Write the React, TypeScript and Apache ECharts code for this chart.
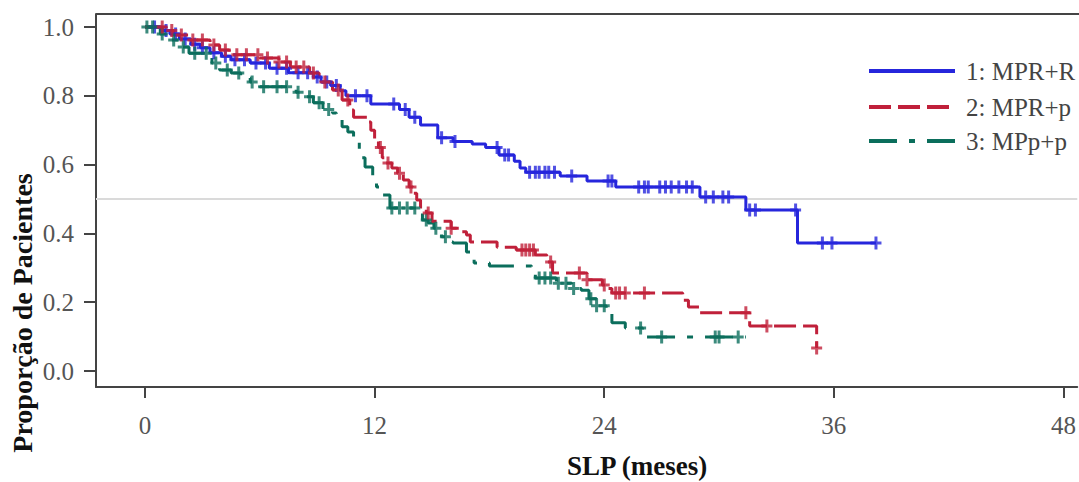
import React, { useEffect, useRef } from "react";
import * as echarts from "echarts";

const FONT = '"Liberation Serif", "Times New Roman", serif';

const xTickValues = [0, 12, 24, 36, 48];
const yTickValues = [0, 0.2, 0.4, 0.6, 0.8, 1.0];

const seriesNames = ["1: MPR+R", "2: MPR+p", "3: MPp+p"];
const seriesColors = ["#2626dc", "#c0203a", "#0b6e5c"];

// Kaplan-Meier step points [month, survival]
const curveMPRR = [
  [0, 1.0], [0.9, 0.99], [1.3, 0.98], [1.8, 0.965], [2.4, 0.95], [2.9, 0.94], [3.4, 0.925],
  [4.0, 0.915], [4.5, 0.905], [5.5, 0.895], [6.5, 0.88], [7.5, 0.867], [8.8, 0.855], [9.2, 0.84],
  [9.7, 0.83], [10.2, 0.815], [10.5, 0.8], [11.8, 0.776], [13.3, 0.76], [13.8, 0.738], [14.4, 0.715],
  [15.3, 0.678], [16.1, 0.667], [17.1, 0.66], [17.8, 0.65], [18.5, 0.628], [19.3, 0.61], [19.6, 0.59],
  [19.9, 0.578], [21.7, 0.567], [23.1, 0.552], [24.6, 0.535], [29.0, 0.506], [31.4, 0.468],
  [34.1, 0.372], [38.2, 0.372],
];
const curveMPRp = [
  [0, 1.0], [1.1, 0.99], [1.5, 0.977], [2.3, 0.962], [3.4, 0.948], [3.9, 0.933], [4.4, 0.919],
  [6.0, 0.91], [7.0, 0.898], [7.6, 0.884], [8.6, 0.866], [9.1, 0.84], [9.8, 0.817], [10.3, 0.788],
  [10.7, 0.759], [10.9, 0.738], [11.6, 0.724], [11.8, 0.7], [12.0, 0.675], [12.2, 0.65], [12.4, 0.62],
  [12.6, 0.605], [12.9, 0.59], [13.2, 0.575], [13.5, 0.555], [13.8, 0.535], [14.0, 0.517], [14.2, 0.497],
  [14.4, 0.477], [14.7, 0.459], [15.0, 0.435], [16.0, 0.415], [16.4, 0.405], [16.8, 0.395], [17.0, 0.375],
  [18.4, 0.36], [19.4, 0.352], [20.4, 0.337], [21.0, 0.317], [21.3, 0.285], [23.1, 0.265], [23.9, 0.25],
  [24.2, 0.24], [24.4, 0.227], [28.1, 0.206], [28.4, 0.186], [29.0, 0.169], [31.6, 0.131], [35.1, 0.067],
];
const curveMPpp = [
  [0, 1.0], [0.8, 0.98], [1.3, 0.962], [1.8, 0.942], [2.3, 0.924], [3.3, 0.91], [3.5, 0.895],
  [3.9, 0.875], [4.5, 0.866], [5.0, 0.852], [5.5, 0.84], [6.0, 0.826], [7.9, 0.81], [8.4, 0.797],
  [8.8, 0.78], [9.3, 0.76], [9.8, 0.75], [10.0, 0.738], [10.3, 0.71], [10.6, 0.695], [10.9, 0.67],
  [11.2, 0.62], [11.5, 0.593], [11.9, 0.56], [12.1, 0.535], [12.4, 0.512], [12.8, 0.474], [14.2, 0.459],
  [14.5, 0.439], [14.8, 0.43], [15.1, 0.415], [15.3, 0.4], [15.5, 0.39], [15.8, 0.375], [16.1, 0.372],
  [16.8, 0.346], [17.0, 0.331], [17.2, 0.314], [18.0, 0.305], [20.2, 0.295], [20.4, 0.27], [21.5, 0.255],
  [22.3, 0.24], [22.8, 0.235], [23.2, 0.21], [23.6, 0.19], [24.1, 0.169], [24.4, 0.14], [25.1, 0.125],
  [26.0, 0.099], [31.4, 0.099],
];

// Censoring times (months)
const censorMPRR = [
  0.5, 1.1, 1.6, 2.1, 2.6, 3.0, 3.6, 4.2, 4.7, 5.2, 5.8, 6.3, 6.9, 7.4, 8.0, 8.5, 9.0, 9.5, 10.0, 11.0,
  11.6, 13.0, 13.6, 14.1, 15.5, 16.2, 18.4, 18.8, 19.0, 20.1, 20.4, 20.6, 20.9, 21.1, 21.4, 22.3, 24.2,
  24.4, 25.8, 26.1, 26.3, 26.9, 27.2, 27.5, 27.9, 28.3, 28.6, 29.3, 29.7, 30.2, 30.5, 31.6, 31.9, 34.0,
  35.4, 35.9, 38.2,
];
const censorMPRp = [
  0.9, 1.4, 1.9, 2.5, 3.0, 3.6, 4.2, 4.8, 5.3, 5.9, 6.4, 7.0, 7.4, 7.9, 8.3, 8.8, 9.4, 10.1, 10.6, 12.3,
  12.7, 13.3, 13.9, 14.8, 16.0, 19.7, 19.9, 20.1, 20.3, 21.2, 22.7, 23.1, 24.0, 24.6, 24.8, 25.1, 26.1,
  31.4, 32.5, 35.1,
];
const censorMPpp = [
  0.1, 0.4, 0.9, 1.5, 2.0, 2.6, 3.2, 3.7, 4.3, 4.9, 5.6, 6.2, 6.9, 7.4, 8.0, 8.6, 9.1, 9.6, 12.9, 13.3,
  13.7, 14.1, 14.7, 15.2, 15.7, 20.6, 20.9, 21.2, 21.6, 22.0, 22.4, 23.3, 23.6, 24.0, 25.9, 27.0, 29.8,
  30.0, 31.0,
];

const curves = [curveMPRR, curveMPRp, curveMPpp];
const censors = [censorMPRR, censorMPRp, censorMPpp];
const dashes: any[] = ["solid", [22, 7], [28, 12, 6, 12]];

function survAt(curve: number[][], t: number) {
  let v = curve[0][1];
  for (const p of curve) {
    if (p[0] <= t) v = p[1];
  }
  return v;
}

const PLUS = "path://M4,0h3v5h4v3h-4v5h-3v-5h-4v-3h4z";

export default function App() {
  const ref = useRef<HTMLDivElement>(null);
  useEffect(() => {
    if (!ref.current) return;
    const chart = echarts.init(ref.current, undefined, { renderer: "svg" });
    const series: any[] = [];
    const order = [0, 2, 1];
    order.forEach((i) => {
      series.push({
        name: seriesNames[i],
        type: "line",
        step: "end",
        symbol: "none",
        data: curves[i],
        lineStyle: { color: seriesColors[i], width: 3, type: dashes[i] },
        z: 3,
        markLine:
          i === 0
            ? {
                silent: true,
                symbol: ["none", "none"],
                label: { show: false },
                lineStyle: { color: "#dadada", type: "solid", width: 2 },
                data: [{ yAxis: 0.5 }],
                z: 1,
              }
            : undefined,
      });
      series.push({
        name: seriesNames[i] + " censor",
        type: "scatter",
        symbol: PLUS,
        symbolSize: [11, 13],
        symbolKeepAspect: false,
        itemStyle: { color: seriesColors[i] },
        data: censors[i].map((t) => [t, survAt(curves[i], t)]),
        z: 4,
      });
    });

    const legendY = [71, 107, 141];
    const graphic: any[] = [
      {
        type: "line",
        shape: { x1: 96, y1: 14, x2: 1079, y2: 14 },
        style: { stroke: "#444", lineWidth: 2 },
      },
      {
        type: "text",
        x: 22,
        y: 313,
        rotation: Math.PI / 2,
        style: {
          text: "Proporção de Pacientes",
          font: `bold 28px ${FONT}`,
          fill: "#111",
          textAlign: "center",
          textVerticalAlign: "middle",
        },
      },
      {
        type: "text",
        x: 637,
        y: 466,
        style: {
          text: "SLP (meses)",
          font: `bold 27px ${FONT}`,
          fill: "#111",
          textAlign: "center",
          textVerticalAlign: "middle",
        },
      },
    ];
    seriesNames.forEach((n, i) => {
      graphic.push({
        type: "line",
        shape: { x1: 869, y1: legendY[i], x2: 955, y2: legendY[i] },
        style: { stroke: seriesColors[i], lineWidth: 4, lineDash: i === 0 ? null : dashes[i] },
      });
      graphic.push({
        type: "text",
        x: 966,
        y: legendY[i],
        style: {
          text: n,
          font: `25px ${FONT}`,
          fill: "#444",
          textAlign: "left",
          textVerticalAlign: "middle",
        },
      });
    });

    chart.setOption({
      animation: false,
      backgroundColor: "#fff",
      grid: { left: 96, top: 14, right: 0, bottom: 95, containLabel: false },
      xAxis: {
        type: "value",
        min: -2.56,
        max: 48.72,
        axisLine: { show: true, onZero: false, lineStyle: { color: "#444", width: 2 } },
        axisTick: { show: true, customValues: xTickValues, length: 11, lineStyle: { color: "#444", width: 2 } },
        axisLabel: { customValues: xTickValues, margin: 26, fontSize: 25, fontFamily: FONT, color: "#555" },
        splitLine: { show: false },
      },
      yAxis: {
        type: "value",
        min: -0.0465,
        max: 1.0378,
        axisLine: { show: true, onZero: false, lineStyle: { color: "#444", width: 2 } },
        axisTick: { show: true, customValues: yTickValues, length: 12, lineStyle: { color: "#444", width: 2 } },
        axisLabel: {
          customValues: yTickValues,
          margin: 22,
          fontSize: 25,
          fontFamily: FONT,
          color: "#555",
          formatter: (v: number) => v.toFixed(1),
        },
        splitLine: { show: false },
      },
      graphic,
      series,
    });
    return () => chart.dispose();
  }, []);
  return (
    <div
      ref={ref}
      style={{ position: "fixed", left: 0, top: 0, width: 1079, height: 482, background: "#fff" }}
    />
  );
}
